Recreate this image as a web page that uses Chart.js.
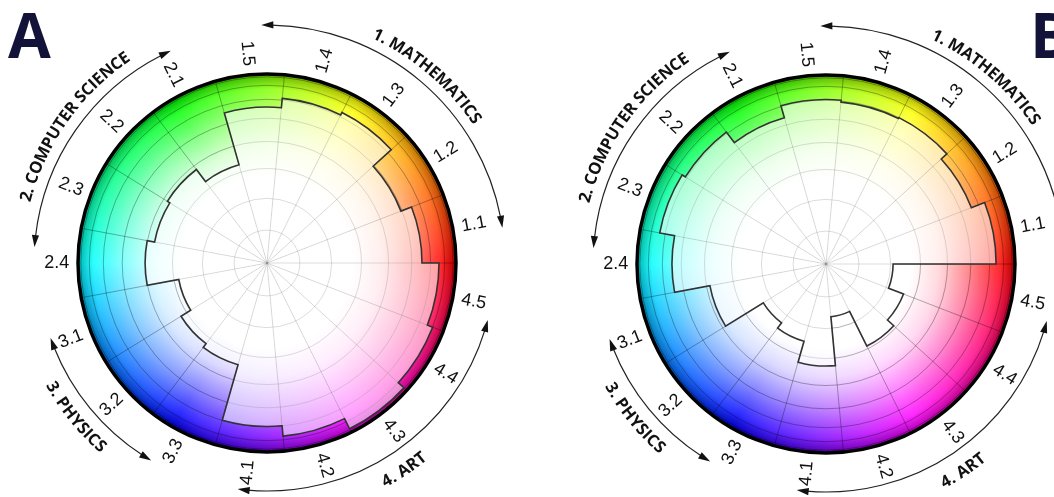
<!DOCTYPE html>
<html>
<head>
<meta charset="utf-8">
<script src="https://cdn.jsdelivr.net/npm/chart.js@4/dist/chart.umd.min.js"></script>
<style>
  body { margin: 0; background: #fff; width: 1054px; height: 497px; overflow: hidden; position: relative; }
  .panel { position: absolute; top: 0; width: 527px; height: 497px; }
</style>
</head>
<body>
<div class="panel" style="left:0"><canvas id="chartA" width="527" height="497"></canvas></div>
<div class="panel" style="left:527px"><canvas id="chartB" width="527" height="497"></canvas></div>
<script>
// sub-topics, counter-clockwise from 3 o'clock
const topics = ['1.1', '1.2', '1.3', '1.4', '1.5', '2.1', '2.2', '2.3', '2.4',
                '3.1', '3.2', '3.3', '4.1', '4.2', '4.3', '4.4', '4.5'];
const groups = ['1. MATHEMATICS', '2. COMPUTER SCIENCE', '3. PHYSICS', '4. ART'];
const groupSizes = [5, 4, 3, 5];

// radius of each sector, % of the disc
const scoresA = [82, 76, 89, 87.5, 82.5, 54, 62, 60.5, 64.5, 47.5, 53.5, 56, 86.5, 92, 98, 94, 91];
const scoresB = [90, 82.5, 86.5, 86, 87, 80.5, 87.5, 89.5, 81.5, 62.5, 39, 42.5, 54, 28, 48.5, 44, 35.5];

// grid rings (sin of 10..90 deg)
const rings = [0, 17.4, 34.2, 50, 64.3, 76.6, 86.6, 94.0, 98.5, 100];

// layout bits
const arcR = [238, 233, 229, 228];
const nameR = [253, 249, 248, 249];
const deg = Math.PI / 180;

// chart.js draws clockwise, so feed it in reverse
const order = topics.map((_, i) => topics.length - 1 - i);

// colour wheel behind everything
const wheel = {
    id: 'wheel',
    beforeDraw(chart) {
        const s = chart.scales.r, ctx = chart.ctx;
        const cx = s.xCenter, cy = s.yCenter, R = s.drawingArea;
        ctx.save();
        ctx.beginPath();
        ctx.arc(cx, cy, R, 0, Math.PI * 2);
        const hue = ctx.createConicGradient(0, cx, cy);
        ['#ff0000', '#ff00ff', '#0000ff', '#00ffff', '#00ff00', '#ffff00', '#ff0000']
            .forEach((c, k) => hue.addColorStop(k / 6, c));
        ctx.fillStyle = hue;
        ctx.fill();
        const fade = ctx.createRadialGradient(cx, cy, 0, cx, cy, R);
        fade.addColorStop(0, 'rgba(255,255,255,1)');
        fade.addColorStop(0.45, 'rgba(255,255,255,1)');
        fade.addColorStop(0.6, 'rgba(255,255,255,0.85)');
        fade.addColorStop(0.75, 'rgba(255,255,255,0.55)');
        fade.addColorStop(0.88, 'rgba(255,255,255,0.25)');
        fade.addColorStop(1, 'rgba(255,255,255,0)');
        ctx.fillStyle = fade;
        ctx.fill();
        const rim = ctx.createRadialGradient(cx, cy, 0, cx, cy, R);
        rim.addColorStop(0.92, 'rgba(0,0,0,0)');
        rim.addColorStop(1, 'rgba(0,0,0,0.3)');
        ctx.fillStyle = rim;
        ctx.fill();
        ctx.restore();
    }
};

// stepped outline around the sectors
const outline = {
    id: 'outline',
    afterDatasetsDraw(chart) {
        const ctx = chart.ctx;
        const arcs = chart.getDatasetMeta(0).data;
        ctx.save();
        ctx.beginPath();
        arcs.forEach(a => {
            const p = a.getProps(['x', 'y', 'startAngle', 'endAngle', 'outerRadius']);
            ctx.arc(p.x, p.y, p.outerRadius, p.startAngle, p.endAngle);
        });
        ctx.closePath();
        ctx.strokeStyle = '#333';
        ctx.lineWidth = 1.6;
        ctx.stroke();
        ctx.restore();
    }
};

function arcText(ctx, text, cx, cy, r, mid) {
    const top = Math.sin(mid) < 0;
    const widths = [...text].map(ch => ctx.measureText(ch).width);
    const total = widths.reduce((a, b) => a + b, 0) / r;
    let a = top ? mid - total / 2 : mid + total / 2;
    [...text].forEach((ch, k) => {
        const w = widths[k] / r;
        const c = top ? a + w / 2 : a - w / 2;
        ctx.save();
        ctx.translate(cx + r * Math.cos(c), cy + r * Math.sin(c));
        ctx.rotate(top ? c + Math.PI / 2 : c - Math.PI / 2);
        ctx.fillText(ch, 0, 0);
        ctx.restore();
        a = top ? a + w : a - w;
    });
}

function arrowHead(ctx, x, y, dx, dy) {
    const L = 10, W = 3.6;
    ctx.beginPath();
    ctx.moveTo(x + dx * 2, y + dy * 2);
    ctx.lineTo(x - dx * L - dy * W, y - dy * L + dx * W);
    ctx.lineTo(x - dx * L + dy * W, y - dy * L - dx * W);
    ctx.closePath();
    ctx.fill();
}

// labels, group arrows, panel letter
const decor = {
    id: 'decor',
    afterDraw(chart, args, opts) {
        const s = chart.scales.r, ctx = chart.ctx;
        const cx = s.xCenter, cy = s.yCenter, R = s.drawingArea;
        const arcs = chart.getDatasetMeta(0).data;
        const n = topics.length;
        ctx.save();
        ctx.fillStyle = '#111';
        ctx.textAlign = 'center';
        ctx.textBaseline = 'middle';

        // sub-topic numbers
        ctx.font = '18px "Liberation Sans", Arial';
        topics.forEach((t, i) => {
            const p = arcs[n - 1 - i].getProps(['startAngle', 'endAngle']);
            const m = (p.startAngle + p.endAngle) / 2;
            const r = R * 1.113;
            ctx.save();
            ctx.translate(cx + r * Math.cos(m), cy + r * Math.sin(m));
            ctx.rotate(Math.cos(m) >= 0 ? m : m + Math.PI);
            ctx.fillText(t, 0, 0);
            ctx.restore();
        });

        // group arrows and names
        let k0 = 0;
        groups.forEach((g, gi) => {
            const size = groupSizes[gi];
            const c1 = arcs[n - 1 - (k0 + size - 1)].getProps(['startAngle']).startAngle;
            const c2 = arcs[n - 1 - k0].getProps(['endAngle']).endAngle;
            k0 += size;
            const a1 = c1 + 15 * deg, a2 = c2 - 9 * deg, rA = arcR[gi];
            ctx.strokeStyle = '#222';
            ctx.lineWidth = 1.2;
            ctx.beginPath();
            ctx.arc(cx, cy, rA, a1 + 2 * deg, a2 - 2 * deg);
            ctx.stroke();
            ctx.fillStyle = '#111';
            arrowHead(ctx, cx + rA * Math.cos(a2), cy + rA * Math.sin(a2), -Math.sin(a2), Math.cos(a2));
            arrowHead(ctx, cx + rA * Math.cos(a1), cy + rA * Math.sin(a1), Math.sin(a1), -Math.cos(a1));
            ctx.font = 'bold 16.5px "Open Sans"';
            arcText(ctx, g, cx, cy, nameR[gi], (c1 + c2) / 2 + 3.5 * deg);
        });

        // panel letter
        ctx.font = 'bold 62px "Open Sans"';
        ctx.textAlign = 'left';
        ctx.textBaseline = 'alphabetic';
        ctx.fillStyle = '#13133a';
        ctx.fillText(opts.letter, opts.letterX, 58);
        ctx.restore();
    }
};

function makeChart(id, values, letter, letterX, pad) {
    return new Chart(document.getElementById(id), {
        type: 'polarArea',
        data: {
            labels: order.map(i => topics[i]),
            datasets: [{
                data: order.map(i => values[i]),
                backgroundColor: 'rgba(255,255,255,0.55)',
                borderWidth: 0
            }]
        },
        options: {
            responsive: false,
            animation: false,
            layout: { padding: pad },
            plugins: {
                legend: { display: false },
                tooltip: { enabled: false },
                decor: { letter: letter, letterX: letterX }
            },
            scales: {
                r: {
                    min: 0,
                    max: 100,
                    startAngle: 90,
                    ticks: { display: false },
                    afterBuildTicks: sc => { sc.ticks = rings.map(v => ({ value: v })); },
                    grid: {
                        circular: true,
                        color: c => (c.tick && c.tick.value === 100) ? '#000' : 'rgba(0,0,0,0.3)',
                        lineWidth: c => (c.tick && c.tick.value === 100) ? 3.5 : 1
                    },
                    angleLines: { display: true, color: 'rgba(0,0,0,0.3)', lineWidth: 1 },
                    pointLabels: { display: false }
                }
            }
        },
        plugins: [wheel, outline, decor]
    });
}

makeChart('chartA', scoresA, 'A', 8, { left: 78, top: 74, right: 71, bottom: 45 });
makeChart('chartB', scoresB, 'B', 503, { left: 110, top: 75, right: 39, bottom: 44 });
</script>
</body>
</html>
